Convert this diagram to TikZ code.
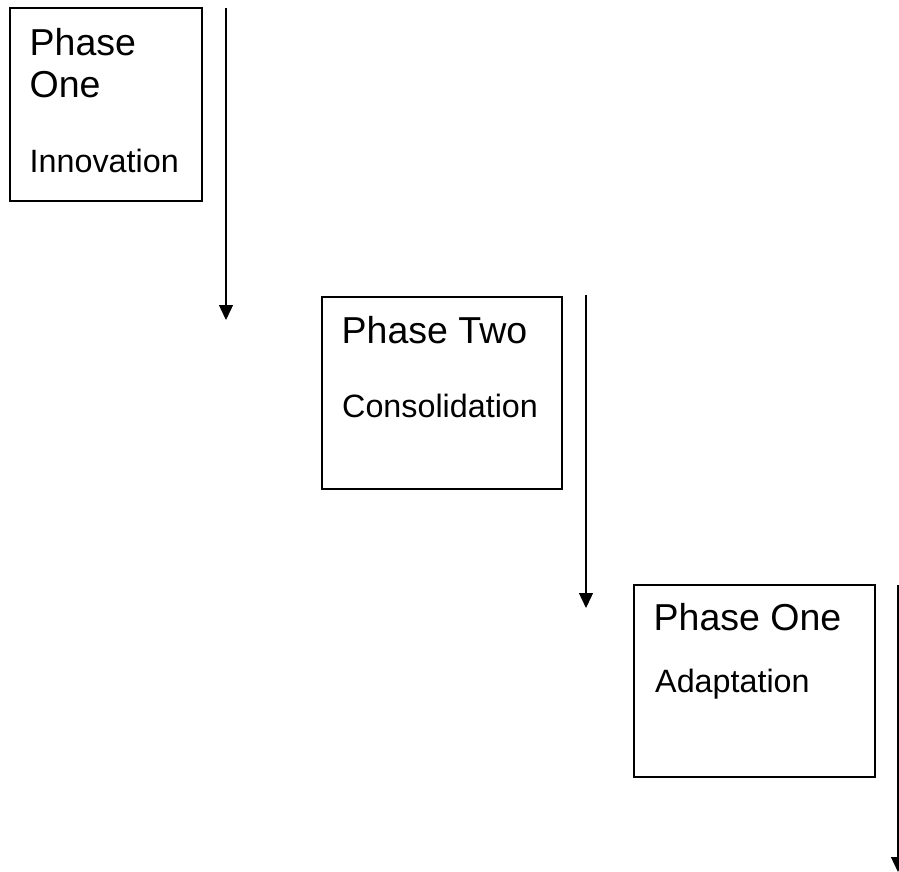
\documentclass[tikz,border=0pt]{standalone}
\usepackage{fontspec}
\setmainfont{Liberation Sans}
\usetikzlibrary{arrows.meta}
\begin{document}
\begin{tikzpicture}[x=1pt,y=-1pt,
  phasebox/.style={draw=black,line width=1.3pt,inner sep=0pt},
  titletext/.style={anchor=base west,inner sep=0pt,font=\fontsize{37.5}{41}\selectfont},
  subtext/.style={anchor=base west,inner sep=0pt,font=\fontsize{32.3}{36}\selectfont},
  flow/.style={line width=1.3pt,-{Triangle[width=14pt,length=15pt]}}]
\useasboundingbox (0,0) rectangle (899,871);

% phase boxes
\node[phasebox,minimum width=192pt,minimum height=193pt] (b1) at (106,104.5) {};
\node[phasebox,minimum width=240pt,minimum height=192pt] (b2) at (442,393) {};
\node[phasebox,minimum width=241pt,minimum height=192pt] (b3) at (754.5,681) {};

% box texts
\node[titletext] (t1a) at (29.5,55) {Phase};
\node[titletext] (t1b) at (29.5,97) {One};
\node[subtext] (s1) at (29.5,172) {Innovation};

\node[titletext] (t2) at (341.5,343) {Phase Two};
\node[subtext] (s2) at (342,417) {Consolidation};

\node[titletext] (t3) at (653.5,630) {Phase One};
\node[subtext] (s3) at (655,692) {Adaptation};

% downward arrows beside the boxes
\coordinate (a1s) at (226,8);
\coordinate (a1e) at (226,320);
\coordinate (a2s) at (586,295);
\coordinate (a2e) at (586,608);
\coordinate (a3s) at (898,585);
\coordinate (a3e) at (898,872);
\draw[flow] (a1s) -- (a1e);
\draw[flow] (a2s) -- (a2e);
\draw[flow] (a3s) -- (a3e);
\end{tikzpicture}
\end{document}
